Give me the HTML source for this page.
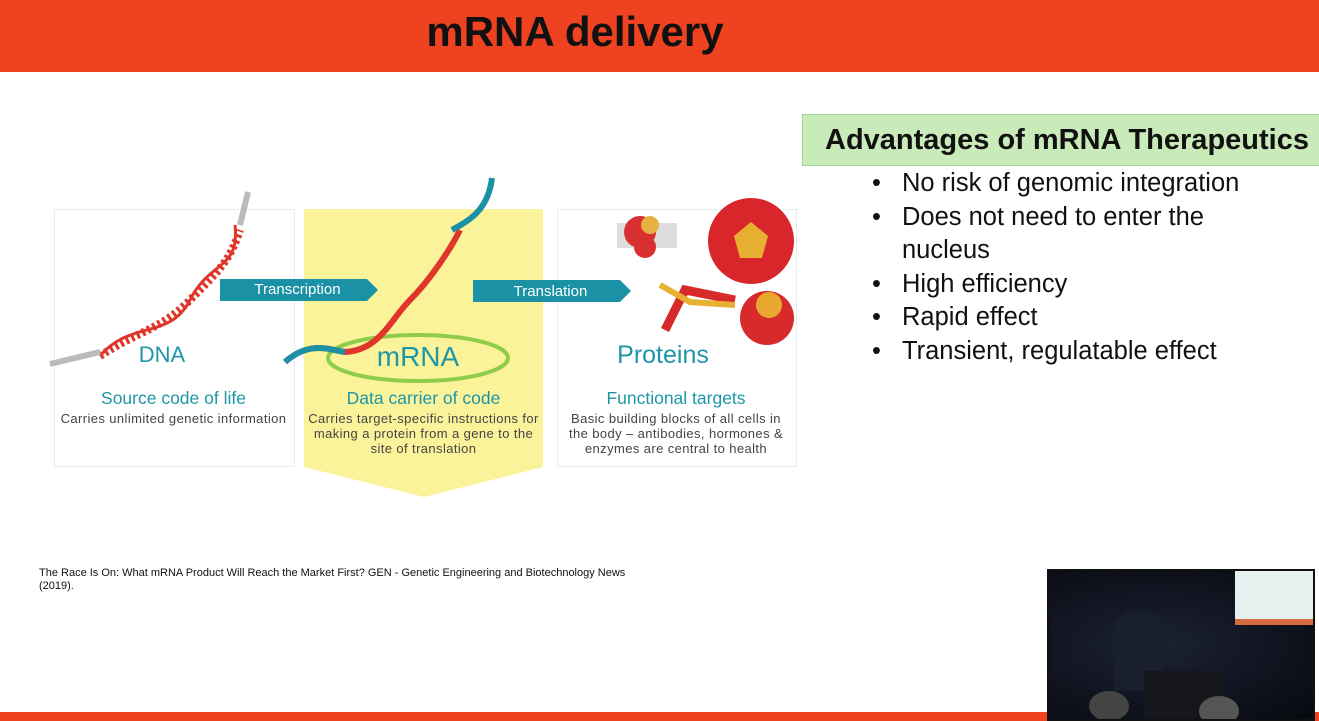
<!DOCTYPE html>
<html><head><meta charset="utf-8"><style>
body{margin:0;width:1319px;height:721px;overflow:hidden;background:#fff;font-family:"Liberation Sans",sans-serif;position:relative}
.abs{position:absolute}
.hdr{left:0;top:0;width:1319px;height:72px;background:#ee4221}
.title{left:0;width:1150px;top:8px;text-align:center;font-size:42px;font-weight:bold;color:#111}
.foot{left:0;top:712px;width:1319px;height:9px;background:#ee4221}
.box{border:1.5px solid #e3eef2}
.teal{color:#1d97a8;text-align:center}
.small{color:#444;font-size:13px;letter-spacing:0.4px;text-align:center;line-height:15px;white-space:nowrap}
.adv{left:802px;top:114px;width:516px;height:50px;background:#c9eab9;border:1px solid #9fd58c;font-size:29px;font-weight:bold;color:#111;line-height:50px;text-indent:22px}
ul{margin:0;padding:0;list-style:none}
li{font-size:25.5px;line-height:33.5px;color:#111;position:relative;padding-left:44px}
li:before{content:"•";position:absolute;left:14px}
</style></head><body>
<div class="abs hdr"></div>
<div class="abs title">mRNA delivery</div>
<div class="abs box" style="left:54px;top:209px;width:239px;height:256px"></div>
<div class="abs box" style="left:557px;top:209px;width:238px;height:256px"></div>
<svg class="abs" style="left:0;top:0" width="820" height="520">
<polygon points="304,209 543,209 543,467 424,497 304,467" fill="#fbf39a"/>
<polygon points="220,279 367,279 378,290 367,301 220,301" fill="#1b91a6"/>
<polygon points="473,280 620,280 631,291 620,302 473,302" fill="#1b91a6"/>
<ellipse cx="418" cy="358" rx="90" ry="23" fill="none" stroke="#8fcc4a" stroke-width="4"/>
<path d="M100,356 C140,330 160,330 190,300 S230,260 240,230" stroke="#e0352a" stroke-width="8" fill="none" stroke-dasharray="3 3"/>
<path d="M100,356 C130,320 170,340 190,300 S240,270 235,225" stroke="#e0352a" stroke-width="3" fill="none"/>
<path d="M50,364 L100,352" stroke="#bbb" stroke-width="6"/>
<path d="M240,225 L248,192" stroke="#bbb" stroke-width="6"/>
<path d="M285,362 C310,340 330,350 345,352 C380,350 390,320 410,300 S450,250 460,230" stroke="#e0352a" stroke-width="6" fill="none"/>
<path d="M285,362 C310,340 330,350 345,352" stroke="#1b91a6" stroke-width="6" fill="none"/>
<path d="M452,230 C470,220 488,210 492,178" stroke="#1b91a6" stroke-width="6" fill="none"/>
<circle cx="751" cy="241" r="43" fill="#d8262a"/><polygon points="751,222 768,236 762,258 740,258 734,236" fill="#e8b030"/>
<rect x="617" y="223" width="60" height="25" fill="#ddd"/>
<circle cx="640" cy="232" r="16" fill="#d83030"/><circle cx="650" cy="225" r="9" fill="#e8b040"/><circle cx="645" cy="247" r="11" fill="#d83030"/>
<path d="M665,330 L685,290 L735,300" stroke="#d82a2a" stroke-width="9" fill="none"/>
<path d="M660,285 L690,302 L735,305" stroke="#e8b030" stroke-width="6" fill="none"/>
<circle cx="767" cy="318" r="27" fill="#d82a2a"/><circle cx="769" cy="305" r="13" fill="#e8a830"/>
</svg>
<div class="abs teal" style="left:54px;top:342px;width:216px;font-size:22px">DNA</div>
<div class="abs teal" style="left:330px;top:341px;width:176px;font-size:28px">mRNA</div>
<div class="abs teal" style="left:557px;top:341px;width:212px;font-size:25px">Proteins</div>
<div class="abs" style="left:220px;top:281px;width:155px;text-align:center;color:#fff;font-size:15px">Transcription</div>
<div class="abs" style="left:473px;top:283px;width:155px;text-align:center;color:#fff;font-size:15px">Translation</div>
<div class="abs teal" style="left:54px;top:388px;width:239px;font-size:17.5px">Source code of life</div>
<div class="abs teal" style="left:304px;top:388px;width:239px;font-size:17.5px">Data carrier of code</div>
<div class="abs teal" style="left:557px;top:388px;width:238px;font-size:17.5px">Functional targets</div>
<div class="abs small" style="left:54px;top:411px;width:239px">Carries unlimited genetic information</div>
<div class="abs small" style="left:304px;top:411px;width:239px">Carries target-specific instructions for<br>making a protein from a gene to the<br>site of translation</div>
<div class="abs small" style="left:557px;top:411px;width:238px">Basic building blocks of all cells in<br>the body – antibodies, hormones &amp;<br>enzymes are central to health</div>
<div class="abs adv">Advantages of mRNA Therapeutics</div>
<ul class="abs" style="left:858px;top:167px">
<li>No risk of genomic integration</li>
<li>Does not need to enter the<br>nucleus</li>
<li>High efficiency</li>
<li>Rapid effect</li>
<li>Transient, regulatable effect</li>
</ul>
<div class="abs" style="left:39px;top:567px;font-size:11px;color:#111;line-height:13px">The Race Is On: What mRNA Product Will Reach the Market First? GEN - Genetic Engineering and Biotechnology News<br>(2019).</div>
<div class="abs foot"></div>
<div class="abs" style="left:1047px;top:569px;width:264px;height:148px;border:2px solid #111;background:radial-gradient(ellipse at 40% 50%,#1c2233,#070910);overflow:hidden">
<div class="abs" style="left:186px;top:0;width:80px;height:50px;background:#e6f1ef"></div>
<div class="abs" style="left:186px;top:48px;width:80px;height:6px;background:#d86a40"></div>
<div class="abs" style="left:65px;top:40px;width:50px;height:80px;background:#1a1f2c;border-radius:20px 20px 0 0"></div>
<div class="abs" style="left:95px;top:100px;width:80px;height:48px;background:#15171c"></div>
<div class="abs" style="left:40px;top:120px;width:40px;height:30px;background:#444;border-radius:50%"></div>
<div class="abs" style="left:150px;top:125px;width:40px;height:30px;background:#555;border-radius:50%"></div>
</div>
</body></html>
